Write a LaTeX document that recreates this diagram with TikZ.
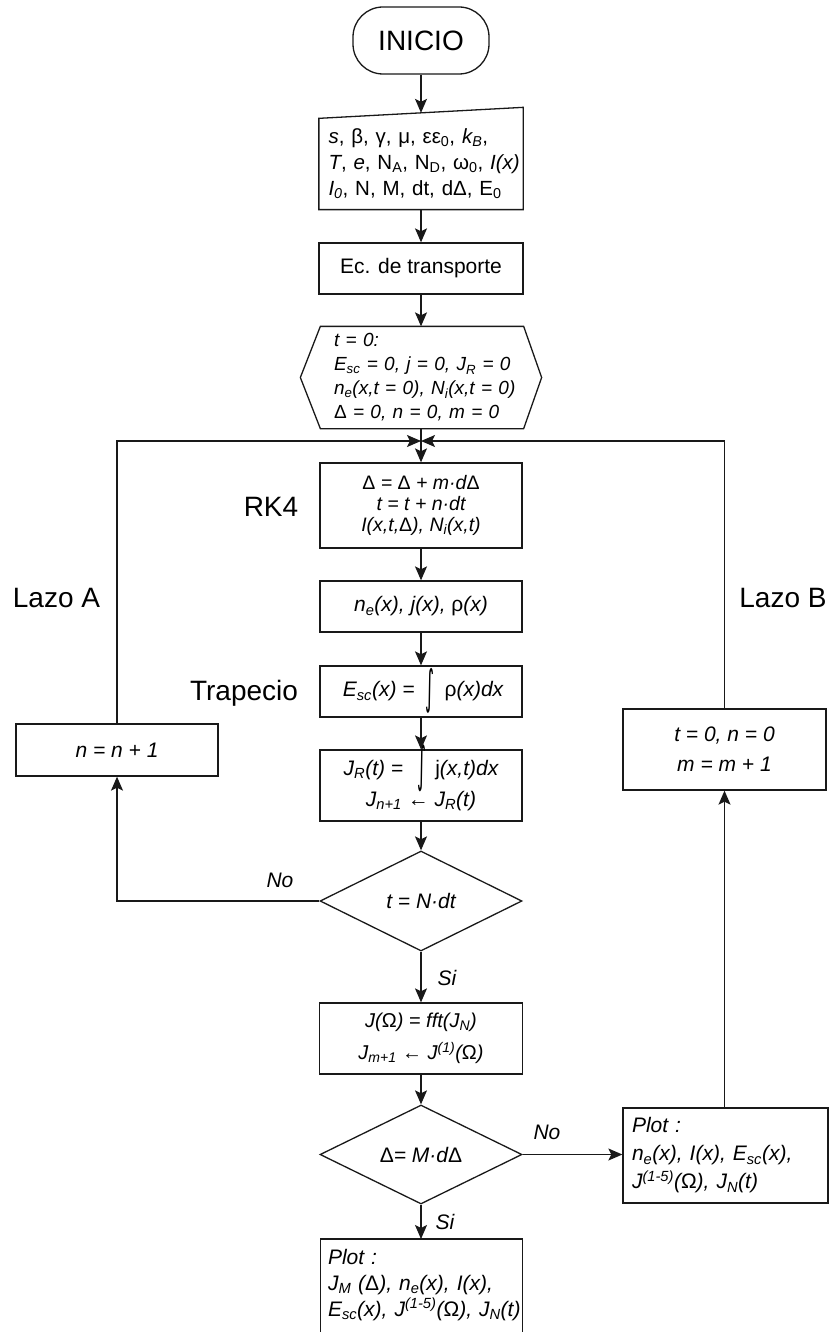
\documentclass[tikz,border=0pt]{standalone}
\usepackage{fontspec}
\setmainfont{Liberation Sans}
\newfontfamily\dvs{DejaVu Sans}
\usepackage{graphicx}
\usetikzlibrary{shapes.geometric,arrows.meta,calc}
\newcommand\sbs[1]{\textsubscript{#1}}
\newcommand\sps[1]{\textsuperscript{#1}}
\newcommand\up[1]{{\upshape #1}}
\newcommand\intg[2]{\raisebox{-#2}[0pt][0pt]{\resizebox*{9pt}{#1}{\raisebox{\depth}{\upshape\dvs ∫}}}}
\newcommand\bodyf{\fontsize{21}{25}\selectfont}
\newcommand\labf{\fontsize{28}{32}\selectfont}
\begin{document}
\begin{tikzpicture}[x=1pt,y=-1pt,
  line/.style={line width=1.3pt, draw=black!90},
  arr/.style={line, -{Stealth[length=14pt,width=12pt,inset=3pt]}},
  box/.style={line, draw, rectangle, inner sep=0pt, align=center, font=\bodyf\itshape},
  lab/.style={font=\labf, inner sep=0pt},
  yn/.style={font=\bodyf\itshape, inner sep=0pt},
]
\useasboundingbox (0,0) rectangle (830,1332);

% terminal
\node[box, rounded corners=30pt, minimum width=136pt, minimum height=67pt, font=\labf] (start) at (421,40.5) {INICIO};

% manual input
\node[box, draw=none, align=left, text width=185pt, inner xsep=9pt, minimum height=90pt, font=\fontsize{20.5}{26}\selectfont] (inp) at (421,164)
 {\mbox{\textit{s}, β, γ, μ, εε\sbs{0}, \textit{k\sbs{B}},}\\
  \mbox{\textit{T}, \textit{e}, N\sbs{A}, N\sbs{D}, ω\sbs{0}, \textit{I(x)}}\\
  \mbox{\textit{I\sbs{0}}, N, M, dt, dΔ, E\sbs{0}}};
\draw[line] (inp.north west) -- ($(inp.north east)+(0,-11)$) -- (inp.south east) -- (inp.south west) -- cycle;
\coordinate (inpTop) at ($(inp.north)+(0,-5.5)$);

\node[box, minimum width=204pt, minimum height=51pt, font=\bodyf] (ec) at (421,268.5) {Ec. de transporte};

% hexagon
\node[box, draw=none, align=left, text width=176pt, inner xsep=13pt, minimum height=101pt, font=\fontsize{19}{24}\selectfont\itshape] (hex) at (422,377.5)
 {\mbox{t = 0:}\\
  \mbox{E\sbs{sc} = 0, j = 0, J\sbs{R} = 0}\\
  \mbox{n\sbs{e}(x,t = 0), N\sbs{i}(x,t = 0)}\\
  \mbox{\up{Δ} = 0, n = 0, m = 0}};
\draw[line] (hex.north west) -- (hex.north east) -- ($(hex.east)+(18,0)$) -- (hex.south east) -- (hex.south west) -- ($(hex.west)+(-20,0)$) -- cycle;

\coordinate (merge) at (421,441);

\node[box, minimum width=202pt, minimum height=85pt, font=\fontsize{19.5}{21}\selectfont\itshape] (rk) at (421,505.5)
 {\up{Δ} = \up{Δ} + m·d\up{Δ}\\ t = t + n·dt\\ I(x,t,\up{Δ}), N\sbs{i}(x,t)};
\node[box, minimum width=202pt, minimum height=51pt] (ne) at (421,606.5) {n\sbs{e}(x), j(x), \up{ρ}(x)};
\node[box, minimum width=202pt, minimum height=51pt] (esc) at (421,691.5) {\hspace{4pt}E\sbs{sc}(x) =\hspace{11pt}\intg{45pt}{16pt}\hspace{10pt}\up{ρ}(x)dx};
\node[box, minimum width=202pt, minimum height=71pt, font=\fontsize{21}{31}\selectfont\itshape] (jr) at (421,785.5)
 {J\sbs{R}(t) =\hspace{14pt}\intg{47pt}{16pt}\hspace{9pt}\up{j}(x,t)dx\\ J\sbs{n+1} ← J\sbs{R}(t)};

\node[diamond, line, draw, aspect=2, inner sep=0pt, minimum width=202pt, minimum height=100pt, font=\bodyf\itshape] (d1) at (421,901) {t = N·dt};

\node[box, minimum width=203pt, minimum height=71pt, font=\fontsize{20}{32}\selectfont\itshape] (fft) at (421,1038.5)
 {J(\up{Ω}) = fft(J\sbs{N})\\ J\sbs{m+1} ← J\sps{(1)}(\up{Ω})};

\node[diamond, line, draw, aspect=2, inner sep=0pt, minimum width=202pt, minimum height=99pt, font=\bodyf\itshape] (d2) at (421,1154.5) {\up{Δ}= M·d\up{Δ}};

% bottom plot (box runs off the page)
\node[box, draw=none, anchor=north, align=left, text width=187pt, inner xsep=7pt, minimum height=90pt, font=\fontsize{21}{26}\selectfont\itshape] (plotB) at (421.5,1239)
 {\mbox{Plot :}\\ \mbox{J\sbs{M} (\up{Δ}), n\sbs{e}(x), I(x),}\\ \mbox{E\sbs{sc}(x), J\sps{(1-5)}(\up{Ω}), J\sbs{N}(t)}};
\draw[line] ($(plotB.south west)+(0,12)$) -- (plotB.north west) -- (plotB.north east) -- ($(plotB.south east)+(0,12)$);

% right plot
\node[box, align=left, text width=187pt, inner xsep=9pt, minimum height=95pt, font=\fontsize{21}{28}\selectfont\itshape] (plotR) at (725.5,1155.5)
 {\mbox{Plot :}\\ \mbox{n\sbs{e}(x), I(x), E\sbs{sc}(x),}\\ \mbox{J\sps{(1-5)}(\up{Ω}), J\sbs{N}(t)}};

\node[box, minimum width=203pt, minimum height=81pt, font=\fontsize{21}{30}\selectfont\itshape] (tbox) at (724.5,749.5) {t = 0, n = 0\\ m = m + 1};
\node[box, minimum width=202pt, minimum height=52pt] (nplus) at (117,750) {n = n + 1};

% labels
\node[lab] (lA) at (56.5,598) {Lazo A};
\node[lab] (lB) at (783,598) {Lazo B};
\node[lab] (lRK) at (271,507) {RK4};
\node[lab] (lTr) at (244,693) {Trapecio};
\node[yn] (no1) at (280,880) {No};
\node[yn] (si1) at (447,978) {Si};
\node[yn] (no2) at (547,1132) {No};
\node[yn] (si2) at (445,1222) {Si};

% connectors
\draw[arr] (start.south) -- (inpTop);
\draw[arr] (inp.south) -- (ec.north);
\draw[arr] (ec.south) -- (ec.south |- hex.north);
\draw[line] (merge |- hex.south) -- (merge);
\draw[arr] (merge) -- (rk.north);
\draw[arr] (rk) -- (ne);
\draw[arr] (ne) -- (esc);
\draw[arr] (esc) -- (jr);
\draw[arr] (jr) -- (d1);
\draw[arr] (d1.west) -| (nplus.south);
\draw[arr] (nplus.north) |- (merge);
\draw[arr] (d1) -- (fft);
\draw[arr] (fft) -- (d2);
\draw[arr] (d2.east) -- (d2.east -| plotR.west);
\draw[arr] (d2.south) -- (d2.south |- plotB.north);
\draw[arr] (tbox.south |- plotR.north) -- (tbox.south);
\draw[arr] (tbox.north) |- (merge);
\end{tikzpicture}
\end{document}
